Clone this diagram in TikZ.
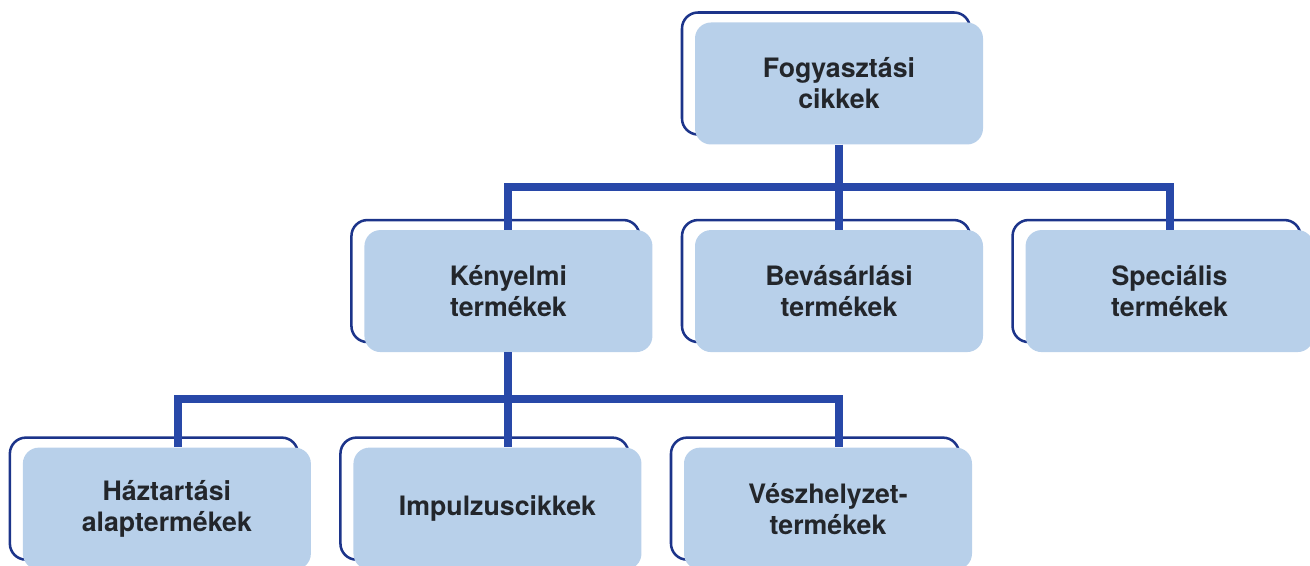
\documentclass[tikz,border=0pt]{standalone}
\usepackage{fontspec}
\setmainfont{TeX Gyre Heros}
\usetikzlibrary{positioning, shadows}
\definecolor{kitoltes}{RGB}{184,208,234}
\definecolor{keret}{RGB}{28,52,138}
\definecolor{vonal}{RGB}{40,72,168}
\definecolor{szoveg}{RGB}{35,38,43}

\begin{document}
\begin{tikzpicture}[node distance=1.05cm,
    doboz/.style={rectangle, rounded corners=0.4cm, fill=kitoltes, minimum width=7.2cm, minimum height=3.05cm,
        inner sep=0pt, align=center, text=szoveg, font=\fontsize{19}{22}\selectfont\bfseries,
        general shadow={fill=none, draw=keret, line width=1.8pt, shadow xshift=-0.325cm, shadow yshift=0.25cm}},
    ag/.style={draw=vonal, line width=5.7pt}]
                \useasboundingbox (0,0) rectangle (32.75,-14.15);
                \node[doboz] (fogy) at (20.975,-2.0875) {Fogyasztási\\cikkek};
                \node[doboz] (beva) [below=2.125cm of fogy] {Bevásárlási\\termékek};
                \node[doboz] (keny) [left=of beva] {Kényelmi\\termékek};
                \node[doboz] (spec) [right=of beva] {Speciális\\termékek};
                \node[doboz] (impu) [below=2.375cm of keny, xshift=-0.275cm] {Impulzuscikkek};
                \node[doboz] (haz) [left=of impu] {Háztartási\\alaptermékek};
                \node[doboz] (vesz) [right=of impu] {Vészhelyzet-\\termékek};
                \draw[ag] (fogy.south) -- ++(0,-1.05) -| (keny.north);
                \draw[ag] (fogy.south) -- (beva.north);
                \draw[ag] (fogy.south) -- ++(0,-1.05) -| (spec.north);
                \draw[ag] (keny.south) -- ++(0,-1.175) -| ([xshift=0.275cm]haz.north);
                \draw[ag] (keny.south) -- ([xshift=0.275cm]impu.north);
                \draw[ag] (keny.south) -- ++(0,-1.175) -| ([xshift=0.275cm]vesz.north);
            \end{tikzpicture}
\end{document}
